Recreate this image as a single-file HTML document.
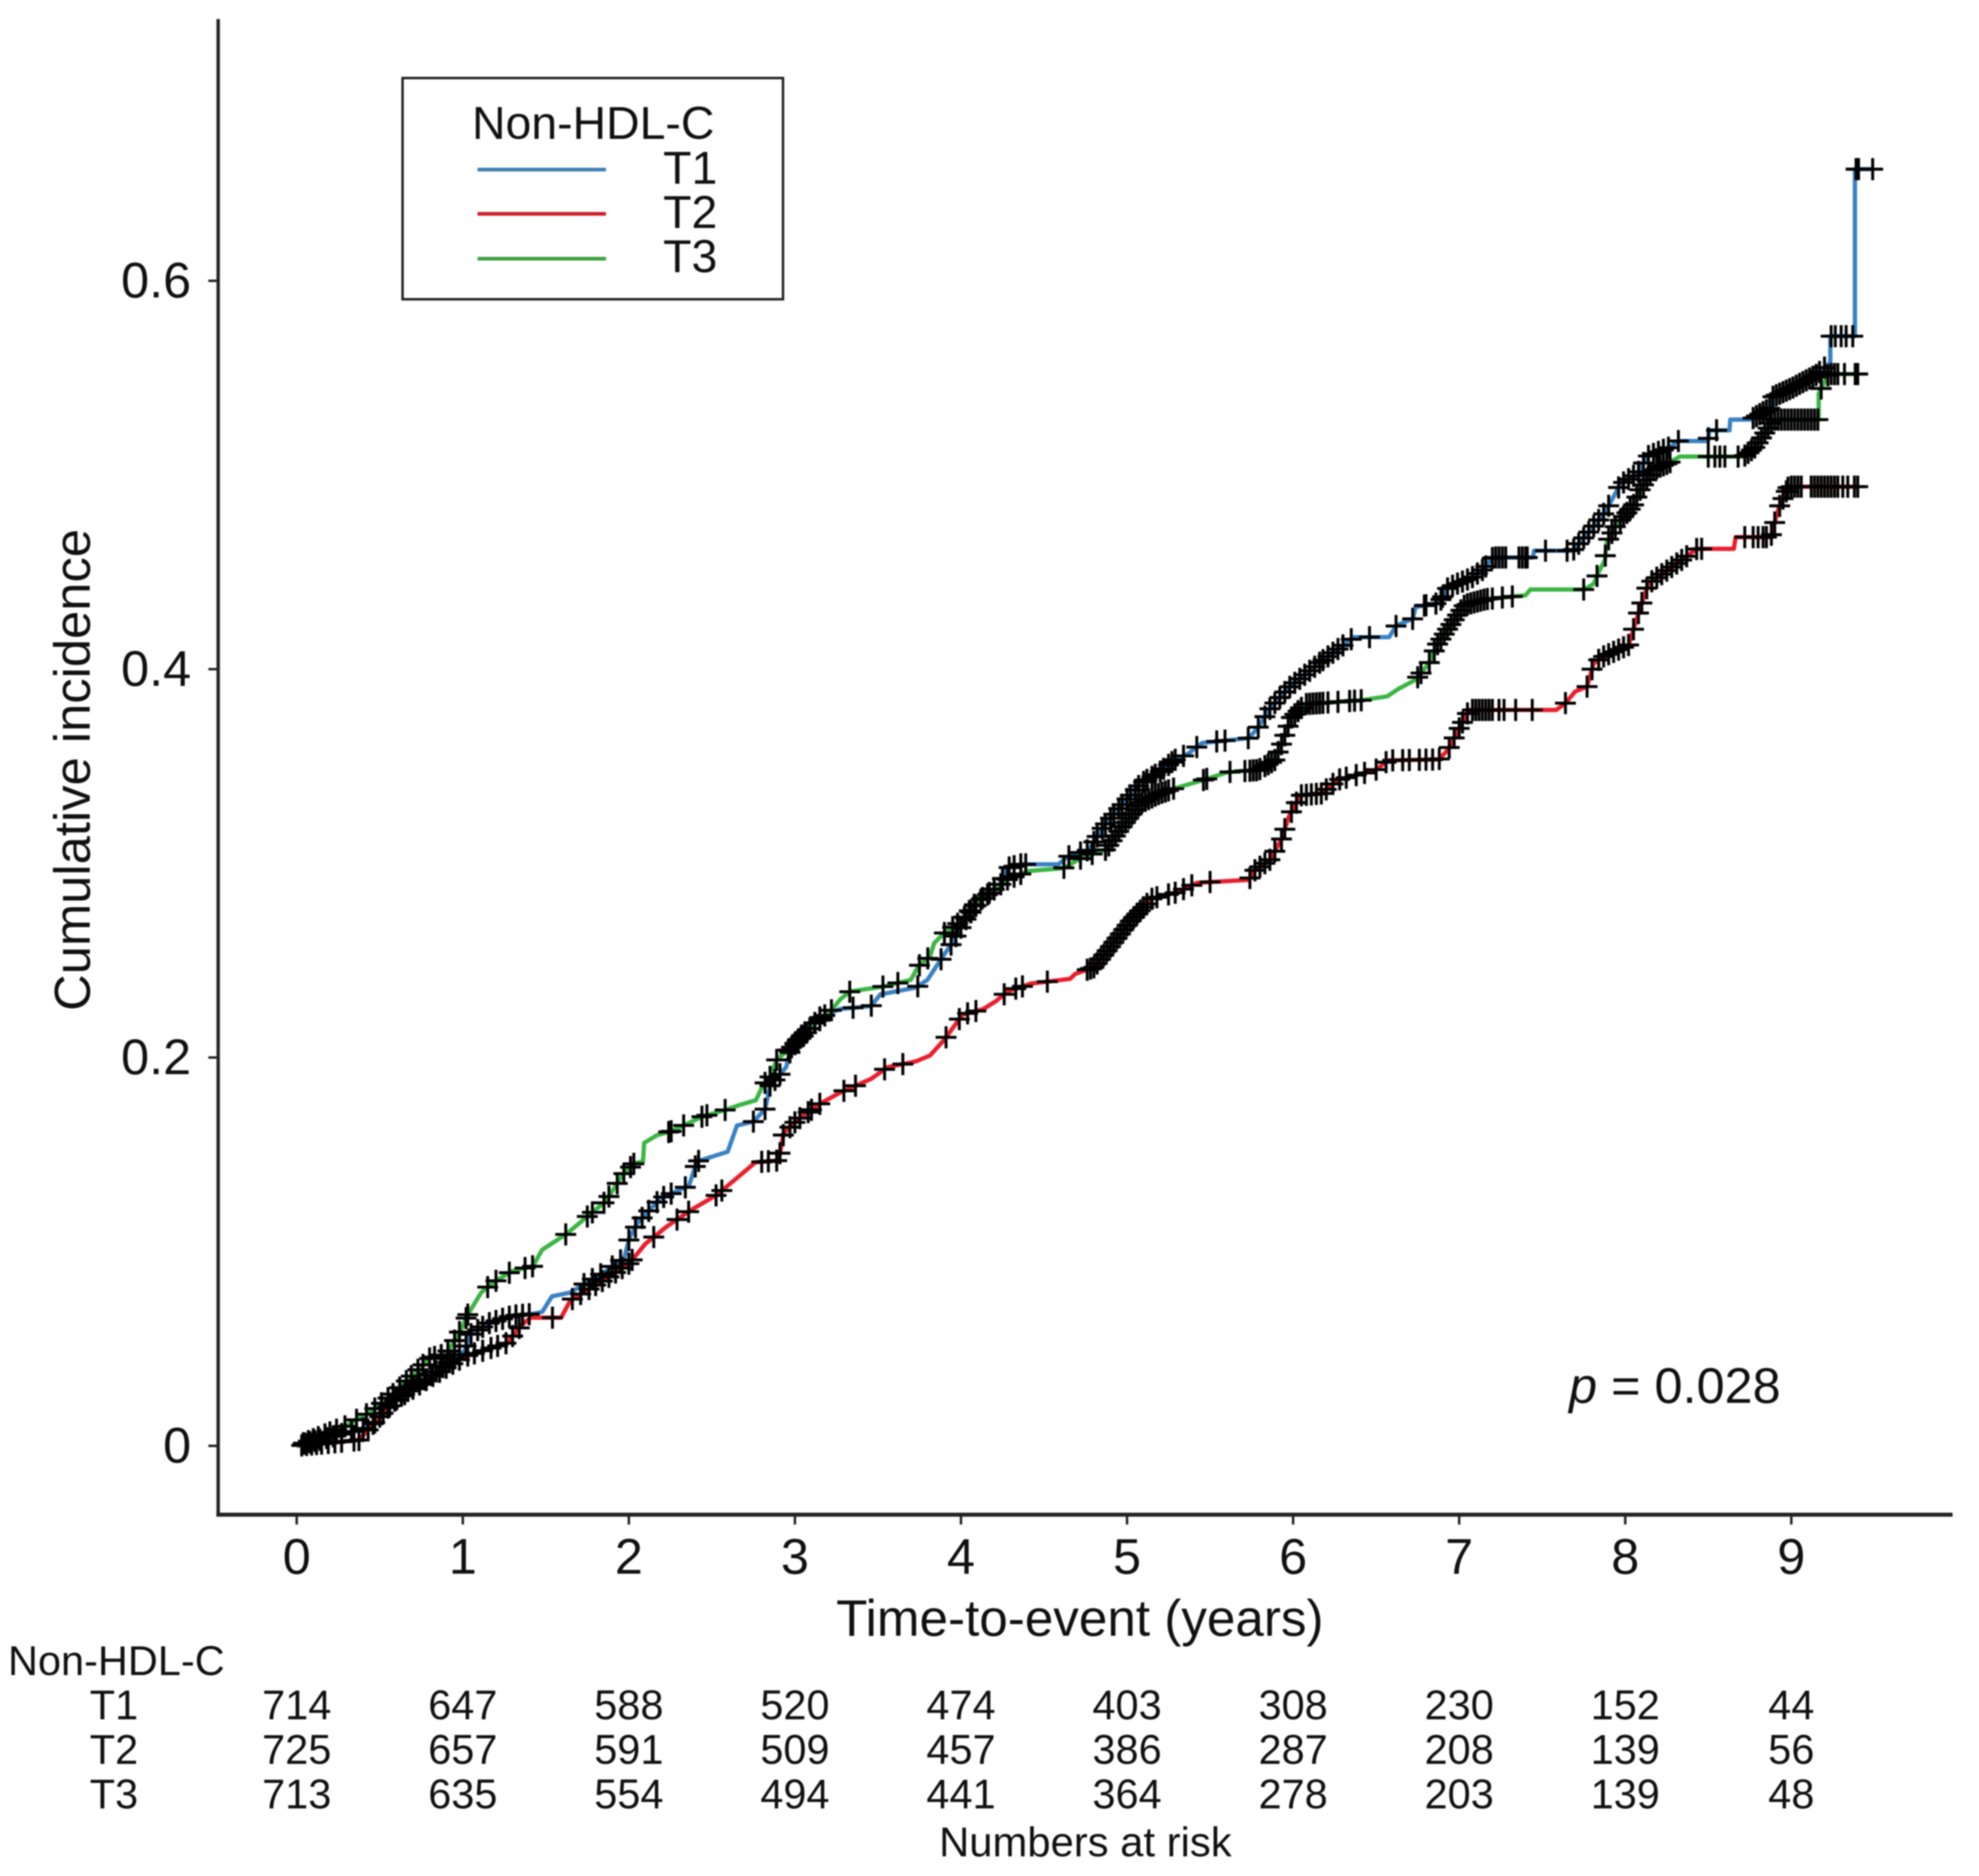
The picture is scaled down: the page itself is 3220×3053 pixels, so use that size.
<!DOCTYPE html>
<html lang="en">
<head>
<meta charset="utf-8">
<title>Cumulative incidence by Non-HDL-C tertile</title>
<style>
html,body{margin:0;padding:0;background:#fff;}
#chart{display:block;width:3220px;height:3053px;filter:blur(1px);}
text{font-family:"Liberation Sans",Arial,sans-serif;fill:#111;}
</style>
</head>
<body>
<svg id="chart" xmlns="http://www.w3.org/2000/svg" width="3220" height="3053" viewBox="0 0 3220 3053">
  <rect x="0" y="0" width="3220" height="3053" fill="#ffffff"/>
  <g id="axes">
    <line x1="355" y1="31" x2="355" y2="2468" stroke="#222" stroke-width="5.5"/>
    <line x1="352" y1="2465" x2="3177" y2="2465" stroke="#222" stroke-width="6.5"/>
  </g>
  <g id="curves"></g>
  <g id="marks"></g>
  <text x="146" y="1253" transform="rotate(-90 146 1253)" font-size="82.5" text-anchor="middle">Cumulative incidence</text>
  <text x="1757" y="2662" font-size="83.3" text-anchor="middle">Time-to-event (years)</text>
  <text x="2553" y="2283" font-size="82"><tspan font-style="italic">p</tspan> = 0.028</text>
  <g>
    <rect x="655" y="127" width="619" height="360" fill="#ffffff" stroke="#222" stroke-width="4"/>
    <text x="768" y="226" font-size="75.5">Non-HDL-C</text>
    <line x1="777" y1="276" x2="986" y2="276" stroke="#3f7fb5" stroke-width="6"/>
    <text x="1079" y="299" font-size="75.5">T1</text>
    <line x1="777" y1="348" x2="986" y2="348" stroke="#cf1f2b" stroke-width="6"/>
    <text x="1079" y="371" font-size="75.5">T2</text>
    <line x1="777" y1="421" x2="986" y2="421" stroke="#3fa043" stroke-width="6"/>
    <text x="1079" y="443" font-size="75.5">T3</text>
  </g>
  <g id="risk-table">
    <text x="13" y="2726" font-size="67.5">Non-HDL-C</text>
    <text x="1766" y="3021" font-size="68" text-anchor="middle">Numbers at risk</text>
  </g>
</svg>
<script>
var xTicks = [0, 1, 2, 3, 4, 5, 6, 7, 8, 9];
var yTicks = [0, 0.2, 0.4, 0.6];
var yTickLabels = ["0", "0.2", "0.4", "0.6"];

var seriesNames = ["T1", "T2", "T3"];
var riskT1 = [714, 647, 588, 520, 474, 403, 308, 230, 152, 44];
var riskT2 = [725, 657, 591, 509, 457, 386, 287, 208, 139, 56];
var riskT3 = [713, 635, 554, 494, 441, 364, 278, 203, 139, 48];

var timeT1 = [0,.445,.585,.73,.87,1.011,1.041,1.152,1.296,1.422,1.478,1.537,1.648,1.762,1.862,1.973,2.003,2.059,2.192,2.362,2.41,2.595,2.651,2.751,2.821,2.85,2.947,2.977,3.062,3.147,3.273,3.458,3.514,3.728,3.798,3.883,3.939,4.035,4.12,4.235,4.275,4.36,4.586,4.645,4.771,4.857,4.968,5.082,5.197,5.282,5.368,5.453,5.734,5.789,5.863,5.974,6.17,6.296,6.367,6.578,6.622,6.722,6.737,6.877,6.933,7.073,7.147,7.203,7.444,7.451,7.684,7.784,7.88,7.969,8.076,8.132,8.273,8.317,8.498,8.506,8.628,8.632,8.754,8.883,8.883,9.009,9.15,9.235,9.235,9.383,9.383,9.49];
var incT1 = [0,.01,.023,.032,.04,.049,.057,.063,.067,.068,.069,.077,.079,.085,.09,.097,.107,.1155,.1275,.134,.1465,.1515,.165,.167,.1735,.1855,.195,.205,.212,.2205,.225,.2265,.2325,.236,.24,.251,.258,.272,.2815,.289,.2975,.2995,.2995,.3035,.307,.319,.33,.341,.347,.353,.3565,.362,.3645,.37,.38,.3905,.404,.412,.4165,.4165,.4225,.426,.432,.434,.442,.447,.4515,.4575,.4575,.461,.461,.471,.481,.495,.501,.5095,.5145,.5175,.5175,.523,.523,.5285,.5285,.535,.54,.545,.5515,.558,.5715,.5715,.6575,.6575];

var timeT2 = [0,.375,.585,.8,1.011,1.266,1.352,1.407,1.592,1.648,1.862,2.003,2.099,2.229,2.384,2.525,2.665,2.762,2.902,2.932,3.017,3.147,3.273,3.458,3.558,3.728,3.813,3.898,4.009,4.135,4.21,4.28,4.416,4.657,4.687,4.802,4.913,5.027,5.153,5.297,5.423,5.734,5.763,5.863,5.933,5.974,6.044,6.17,6.27,6.496,6.574,6.877,6.933,7.003,7.062,7.584,7.64,7.699,7.77,7.81,7.869,8.021,8.084,8.139,8.336,8.432,8.654,8.665,8.876,8.924,8.983,9.4];
var incT2 = [0,.003,.023,.035,.046,.053,.062,.066,.066,.075,.086,.094,.104,.113,.122,.129,.139,.146,.147,.161,.168,.176,.182,.189,.195,.198,.201,.209,.222,.225,.229,.234,.238,.2405,.243,.2465,.2585,.271,.282,.285,.29,.2915,.296,.302,.313,.324,.335,.336,.343,.348,.353,.3535,.3585,.37,.379,.379,.3825,.3885,.391,.403,.4065,.4125,.43,.444,.456,.462,.462,.468,.468,.483,.494,.494];

var timeT3 = [0,.289,.445,.585,.685,.8,.9,.956,.996,1.026,1.111,1.181,1.296,1.422,1.478,1.622,1.748,1.862,1.962,2.033,2.085,2.092,2.17,2.255,2.44,2.581,2.665,2.765,2.806,2.85,2.891,2.977,3.047,3.147,3.217,3.273,3.332,3.528,3.698,3.743,3.813,3.839,3.898,3.998,4.083,4.161,4.275,4.401,4.616,4.742,4.871,4.971,5.082,5.197,5.282,5.463,5.608,5.789,5.889,5.933,5.989,6.074,6.411,6.567,6.637,6.737,6.818,6.863,6.933,7.033,7.159,7.329,7.399,7.429,7.754,7.81,7.84,7.877,7.888,7.947,8.047,8.087,8.173,8.258,8.328,8.713,8.784,8.894,9.165,9.165,9.224,9.4];
var incT3 = [0,.01,.0175,.027,.0355,.045,.0475,.055,.061,.067,.079,.084,.09,.0925,.101,.109,.118,.126,.1395,.1455,.1465,.156,.16,.162,.1695,.173,.1755,.178,.1855,.19,.199,.205,.212,.219,.224,.23,.234,.2365,.24,.247,.252,.259,.264,.27,.279,.284,.2915,.296,.2975,.3035,.307,.319,.331,.336,.3385,.343,.347,.348,.353,.362,.375,.382,.384,.386,.39,.3945,.403,.412,.421,.433,.436,.4375,.438,.441,.441,.444,.45,.456,.465,.4745,.484,.492,.503,.506,.5095,.5095,.5145,.5285,.5285,.542,.552,.552];

var censorT1 = [.05,.08,.11,.14,.18,.22,.27,.33,.40,.46,.50,.55,.59,.63,.67,.70,.74,.77,.81,.84,.88,.92,.95,.98,1.02,1.05,1.09,1.12,1.16,1.20,1.24,1.28,1.32,1.36,1.40,1.73,1.78,1.83,1.90,1.95,2.00,2.04,2.08,2.12,2.17,2.21,2.255,2.34,2.40,2.42,2.75,2.82,2.85,2.88,2.91,2.97,3.00,3.02,3.05,3.07,3.09,3.12,3.15,3.18,3.35,3.46,3.74,3.88,3.94,3.97,4.00,4.03,4.06,4.09,4.13,4.17,4.20,4.25,4.29,4.32,4.36,4.39,4.65,4.72,4.76,4.80,4.82,4.85,4.87,4.90,4.92,4.95,4.97,5.00,5.02,5.05,5.07,5.10,5.12,5.15,5.17,5.20,5.22,5.25,5.27,5.29,5.34,5.42,5.54,5.59,5.73,5.79,5.83,5.86,5.89,5.92,5.95,5.98,6.01,6.04,6.07,6.10,6.13,6.16,6.18,6.21,6.24,6.27,6.30,6.35,6.46,6.62,6.72,6.79,6.80,6.86,6.89,6.90,6.93,6.96,6.99,7.02,7.05,7.08,7.11,7.14,7.16,7.20,7.22,7.24,7.26,7.28,7.36,7.38,7.40,7.41,7.52,7.65,7.69,7.72,7.75,7.78,7.81,7.84,7.87,7.90,7.96,7.99,8.02,8.05,8.08,8.11,8.14,8.17,8.20,8.23,8.26,8.32,8.50,8.55,8.77,8.79,8.81,8.83,8.85,8.87,8.89,8.91,8.93,8.95,8.97,8.99,9.01,9.03,9.05,9.07,9.09,9.11,9.13,9.15,9.17,9.20,9.24,9.265,9.30,9.33,9.37,9.39,9.405,9.49];

var censorT2 = [.03,.06,.09,.12,.15,.19,.23,.27,.345,.375,.43,.47,.52,.56,.60,.65,.70,.74,.78,.82,.86,.90,.94,.98,1.03,1.07,1.12,1.17,1.21,1.26,1.30,1.34,1.54,1.66,1.71,1.76,1.80,1.84,1.88,1.92,1.96,2.00,2.02,2.15,2.29,2.36,2.525,2.56,2.80,2.84,2.89,2.91,2.93,2.97,3.00,3.03,3.08,3.10,3.15,3.295,3.365,3.54,3.65,3.91,3.99,4.04,4.09,4.26,4.33,4.37,4.52,4.76,4.78,4.80,4.82,4.84,4.86,4.88,4.90,4.92,4.94,4.96,4.98,5.00,5.02,5.04,5.06,5.08,5.10,5.12,5.15,5.18,5.25,5.29,5.34,5.39,5.50,5.74,5.77,5.80,5.83,5.86,5.89,5.93,5.95,5.99,6.02,6.05,6.08,6.11,6.14,6.17,6.20,6.24,6.28,6.32,6.38,6.43,6.50,6.56,6.60,6.66,6.70,6.76,6.80,6.84,6.88,6.94,6.97,7.00,7.02,7.05,7.08,7.10,7.12,7.14,7.16,7.18,7.20,7.24,7.27,7.34,7.44,7.64,7.77,7.80,7.84,7.87,7.90,7.93,7.96,7.99,8.02,8.05,8.08,8.10,8.13,8.16,8.19,8.22,8.25,8.28,8.31,8.34,8.37,8.43,8.46,8.72,8.77,8.80,8.83,8.85,8.88,8.90,8.93,8.95,8.97,8.98,9.00,9.02,9.04,9.06,9.12,9.14,9.16,9.18,9.20,9.22,9.24,9.26,9.28,9.31,9.34,9.38,9.40];

var censorT3 = [.04,.07,.10,.13,.17,.20,.24,.29,.36,.42,.47,.51,.55,.58,.62,.66,.69,.73,.76,.80,.83,.87,.91,.95,.98,1.02,1.03,1.15,1.20,1.28,1.375,1.42,1.62,1.75,1.78,1.85,1.88,1.93,1.97,2.01,2.03,2.24,2.255,2.33,2.44,2.47,2.58,2.82,2.85,2.89,2.96,2.98,3.00,3.02,3.04,3.06,3.09,3.15,3.22,3.33,3.53,3.62,3.75,3.80,3.90,3.95,3.98,4.02,4.05,4.08,4.12,4.16,4.20,4.24,4.28,4.32,4.36,4.62,4.72,4.79,4.87,4.89,4.91,4.93,4.95,4.97,4.99,5.01,5.03,5.05,5.07,5.09,5.11,5.13,5.15,5.17,5.19,5.21,5.23,5.25,5.28,5.46,5.48,5.62,5.71,5.74,5.76,5.78,5.80,5.83,5.85,5.87,5.89,5.91,5.93,5.95,5.97,5.99,6.01,6.03,6.05,6.08,6.10,6.12,6.14,6.16,6.18,6.21,6.27,6.34,6.37,6.41,6.75,6.77,6.82,6.85,6.87,6.89,6.91,6.93,6.95,6.97,6.99,7.01,7.03,7.05,7.07,7.09,7.11,7.13,7.15,7.17,7.20,7.26,7.32,7.75,7.83,7.88,7.90,7.92,7.94,7.97,7.99,8.01,8.03,8.05,8.07,8.09,8.11,8.13,8.15,8.17,8.19,8.21,8.23,8.25,8.27,8.50,8.54,8.57,8.60,8.68,8.72,8.74,8.76,8.78,8.80,8.82,8.84,8.86,8.88,8.90,8.92,8.94,8.96,8.98,9.00,9.02,9.04,9.06,9.08,9.10,9.12,9.14,9.16,9.18,9.22,9.24,9.26,9.28,9.32,9.385,9.40];

function xScale(t) { return 482.8 + 270.2 * t; }
function yScale(v) { return 2353 - 3160 * v; }

var SVG_NS = "http://www.w3.org/2000/svg";
var axesGroup = document.getElementById("axes");
var curvesGroup = document.getElementById("curves");
var marksGroup = document.getElementById("marks");
var tableGroup = document.getElementById("risk-table");

function incidenceAt(times, values, t) {
  var i = 0;
  for (var k = 0; k < times.length; k++) { if (times[k] <= t) { i = k; } }
  if (i >= times.length - 1) { return values[values.length - 1]; }
  var f = (t - times[i]) / (times[i + 1] - times[i]);
  return values[i] + f * (values[i + 1] - values[i]);
}

xTicks.forEach(function (tick) {
  var line = document.createElementNS(SVG_NS, "line");
  line.setAttribute("x1", xScale(tick));
  line.setAttribute("x2", xScale(tick));
  line.setAttribute("y1", 2465);
  line.setAttribute("y2", 2481);
  line.setAttribute("stroke", "#222");
  line.setAttribute("stroke-width", 4);
  
  
  axesGroup.appendChild(line);
  var label = document.createElementNS(SVG_NS, "text");
  label.setAttribute("x", xScale(tick));
  label.setAttribute("y", 2561);
  label.setAttribute("font-size", 82);
  label.setAttribute("text-anchor", "middle");
  label.textContent = String(tick);
  
  
  axesGroup.appendChild(label);
});

yTicks.forEach(function (tick, i) {
  var line = document.createElementNS(SVG_NS, "line");
  line.setAttribute("x1", 339);
  line.setAttribute("x2", 355);
  line.setAttribute("y1", yScale(tick));
  line.setAttribute("y2", yScale(tick));
  line.setAttribute("stroke", "#222");
  line.setAttribute("stroke-width", 4);
  
  
  axesGroup.appendChild(line);
  var label = document.createElementNS(SVG_NS, "text");
  label.setAttribute("x", 311);
  label.setAttribute("y", yScale(tick) + 27);
  label.setAttribute("font-size", 82);
  label.setAttribute("text-anchor", "end");
  label.textContent = yTickLabels[i];
  
  
  axesGroup.appendChild(label);
});

function drawCurve(times, values, colour, name) {
  var d = "";
  for (var i = 0; i < times.length; i++) {
    d += (i === 0 ? "M" : "L") + xScale(times[i]).toFixed(1) + " " + yScale(values[i]).toFixed(1);
  }
  var path = document.createElementNS(SVG_NS, "path");
  path.setAttribute("d", d);
  path.setAttribute("fill", "none");
  path.setAttribute("stroke", colour);
  path.setAttribute("stroke-width", 7);
  path.setAttribute("stroke-linejoin", "round");
  
  
  curvesGroup.appendChild(path);
}

drawCurve(timeT1, incT1, "#3a82c4", "curve-t1");
drawCurve(timeT2, incT2, "#ea1f2d", "curve-t2");
drawCurve(timeT3, incT3, "#3cb544", "curve-t3");

function drawMarks(censor, times, values, name) {
  censor.forEach(function (t) {
    var cx = xScale(t);
    var cy = yScale(incidenceAt(times, values, t));
    var mark = document.createElementNS(SVG_NS, "path");
    mark.setAttribute("d", "M" + (cx - 17).toFixed(1) + " " + cy.toFixed(1) + "H" + (cx + 17).toFixed(1) + "M" + cx.toFixed(1) + " " + (cy - 18).toFixed(1) + "V" + (cy + 18).toFixed(1));
    mark.setAttribute("fill", "none");
    mark.setAttribute("stroke", "#000");
    mark.setAttribute("stroke-width", 4.8);
    
    
    marksGroup.appendChild(mark);
  });
}

drawMarks(censorT1, timeT1, incT1, "censor-mark-t1");
drawMarks(censorT2, timeT2, incT2, "censor-mark-t2");
drawMarks(censorT3, timeT3, incT3, "censor-mark-t3");

function drawRiskRow(rowIndex, counts) {
  var baseline = 2798 + 72.5 * rowIndex;
  var rowLabel = document.createElementNS(SVG_NS, "text");
  rowLabel.setAttribute("x", 146);
  rowLabel.setAttribute("y", baseline);
  rowLabel.setAttribute("font-size", 67.5);
  rowLabel.textContent = seriesNames[rowIndex];
  
  
  tableGroup.appendChild(rowLabel);
  counts.forEach(function (count, i) {
    var cell = document.createElementNS(SVG_NS, "text");
    cell.setAttribute("x", xScale(xTicks[i]));
    cell.setAttribute("y", baseline);
    cell.setAttribute("font-size", 67.5);
    cell.setAttribute("text-anchor", "middle");
    cell.textContent = String(count);
    
    
    tableGroup.appendChild(cell);
  });
}

drawRiskRow(0, riskT1);
drawRiskRow(1, riskT2);
drawRiskRow(2, riskT3);
</script>
</body>
</html>
